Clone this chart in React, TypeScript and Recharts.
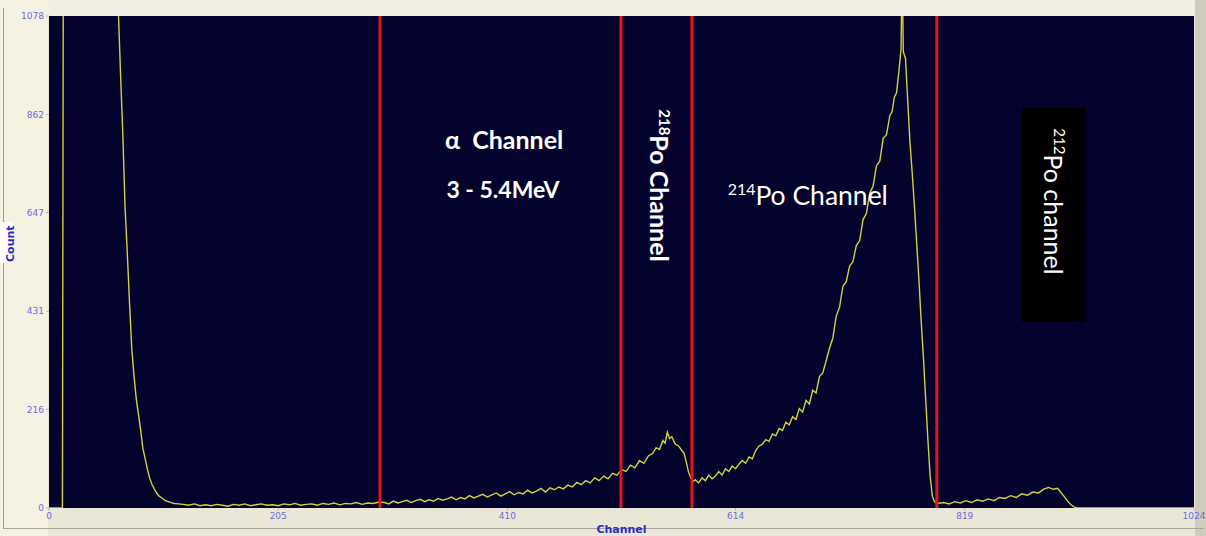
import React from 'react';
import {
  LineChart,
  Line,
  XAxis,
  YAxis,
  CartesianGrid,
  ReferenceLine,
  ReferenceArea,
  ReferenceDot,
} from 'recharts';

// Channel numbers (x)
const channels = [
  0, 6, 12, 13, 60, 62, 64, 66, 68, 70,
  72, 74, 76, 78, 80, 82, 84, 86, 88, 90,
  92, 95, 98, 101, 104, 108, 112, 116,
  120, 125, 130, 135, 140, 145, 150, 155, 160, 165,
  170, 175, 180, 185, 190, 195, 200, 205, 210, 215,
  220, 225, 230, 235, 240, 245, 250, 255, 260, 265,
  270, 275, 280, 285, 290, 295,
  300, 304, 308, 312, 316, 320, 324, 328, 332, 336,
  340, 344, 348, 352, 356, 360, 364, 368, 372, 376,
  380, 384, 388, 392, 396, 400, 404, 408, 412, 416,
  420, 424, 428, 432, 436, 440, 444, 448, 452, 456,
  460, 464, 468, 472, 476, 480, 484, 488, 492, 496,
  500, 504, 508, 512, 516, 520, 524, 528, 532, 536,
  540, 543, 546, 549, 551, 553, 555, 557, 560, 563,
  566, 568, 570, 572, 574, 576,
  578, 581, 584, 587, 590, 593, 596, 599, 602, 605,
  608, 611, 614, 617, 620, 623, 626, 629, 632, 635,
  638, 641, 644, 647, 650, 653, 656, 659, 662, 665,
  668, 671, 674, 677, 680, 683, 686, 689, 692, 695,
  698, 701, 704, 707, 710, 713, 716, 719, 722, 725,
  728, 731, 734, 737, 740, 743, 746, 749, 752, 754,
  756, 758, 760, 762, 763, 764, 766, 768, 770, 772,
  774, 776, 778, 780, 782, 784, 786, 788, 790, 792,
  795,
  800, 805, 810, 815, 820, 825, 830, 835, 840, 845,
  850, 855, 860, 865, 870, 875, 880, 885, 890, 894,
  898, 902, 905, 908, 911, 914, 917, 920, 960, 1024,
];

// Counts (y) for each channel above
const counts = [
  0, 0, 0, 1500, 1500, 1090, 950, 820, 660, 560,
  450, 350, 290, 240, 205, 170, 130, 108, 85, 66,
  52, 38, 27, 22, 16, 13, 10, 9,
  8, 6, 9, 5, 7, 5, 8, 6, 4, 8,
  6, 9, 5, 7, 9, 6, 7, 5, 9, 7,
  10, 6, 8, 9, 6, 10, 8, 11, 7, 10,
  9, 12, 8, 11, 10, 13,
  12, 9, 15, 11, 14, 17, 12, 16, 19, 14,
  18, 15, 21, 17, 20, 24, 18, 23, 20, 27,
  22, 26, 30, 24, 29, 33, 26, 31, 36, 29,
  34, 31, 39, 33, 37, 43, 35, 44, 40, 46,
  42, 50, 46, 56, 51, 60, 55, 66, 60, 70,
  64, 76, 72, 84, 80, 94, 88, 104, 98, 114,
  120, 132, 128, 148, 142, 166, 152, 156, 140, 136,
  126, 120, 100, 78, 66, 58,
  62, 55, 66, 60, 72, 64, 70, 80, 72, 86,
  80, 92, 86, 96, 104, 98, 112, 108, 126, 136,
  140, 150, 146, 162, 158, 174, 170, 188, 182, 200,
  194, 218, 210, 236, 228, 258, 252, 288, 296, 322,
  350, 372, 420, 440, 486, 496, 530, 540, 575, 586,
  632, 645, 690, 705, 750, 760, 810, 818, 860, 868,
  900, 910, 955, 1005, 1200, 1000, 985, 890, 800, 734,
  660, 580, 500, 410, 330, 240, 150, 70, 26, 13,
  10,
  12, 9, 14, 11, 16, 12, 18, 15, 20, 16,
  23, 21, 27, 23, 31, 28, 35, 33, 42, 45,
  41, 43, 34, 25, 15, 7, 2, 0, 0, 0,
];

const xTicks = [0, 205, 410, 614, 819, 1024];
const yTicks = [0, 216, 431, 647, 862, 1078];
const boundaries = [296, 511.5, 575, 794];

const data = channels.map((ch, i) => ({ ch, count: counts[i] }));

const tickStyle = { fill: '#6a6ae0', fontSize: 9, fontFamily: 'DejaVu Sans' };
const annoFont = 'Lato';

const HText = (text: string, size: number, weight: number, anchor: 'middle' | 'start', sup?: string) =>
  (p: any) => (
    <text
      x={p.cx}
      y={p.cy}
      fill="#ffffff"
      fontFamily={annoFont}
      fontSize={size}
      fontWeight={weight}
      textAnchor={anchor}
    >
      {sup ? (
        <>
          <tspan fontSize={size * 0.6} dy={-size * 0.38}>{sup}</tspan>
          <tspan dy={size * 0.38}>{text}</tspan>
        </>
      ) : (
        text
      )}
    </text>
  );

const VText = (text: string, size: number, weight: number, sup: string) => (p: any) => (
  <text
    x={p.cx}
    y={p.cy + size * 0.36}
    transform={`rotate(90 ${p.cx} ${p.cy})`}
    fill="#ffffff"
    fontFamily={annoFont}
    fontSize={size}
    fontWeight={weight}
    textAnchor="middle"
  >
    <tspan fontSize={size * 0.6} dy={-size * 0.38}>{sup}</tspan>
    <tspan dy={size * 0.38}>{text}</tspan>
  </text>
);

export default function App() {
  return (
    <div
      style={{
        position: 'absolute',
        left: 0,
        top: 0,
        width: 1206,
        height: 536,
        background: '#ebe7d6',
        overflow: 'hidden',
      }}
    >
      <div style={{ position: 'absolute', left: 0, top: 0, width: 48, height: 536, background: '#f6f2e1' }} />
      <div style={{ position: 'absolute', left: 48, top: 0, width: 1158, height: 16, background: '#f1eee3' }} />
      <div style={{ position: 'absolute', left: 1195, top: 0, width: 11, height: 536, background: '#cfccbd' }} />
      <div
        style={{
          position: 'absolute',
          left: 3,
          top: 8,
          width: 1200,
          height: 520,
          borderLeft: '1px solid #9c9c94',
          borderBottom: '1px solid #a8a69c',
        }}
      />
      <div style={{ position: 'absolute', left: 0, top: 222, width: 12, height: 41, background: '#ffffff' }} />
      <div style={{ position: 'absolute', left: 0, top: 0 }}>
        <LineChart
          width={1206}
          height={536}
          data={data}
          margin={{ top: 16, right: 12, bottom: 0, left: 0 }}
        >
          <CartesianGrid fill="#03032e" horizontal={false} vertical={false} />
          <XAxis
            type="number"
            dataKey="ch"
            domain={[0, 1024]}
            ticks={xTicks}
            interval={0}
            allowDataOverflow
            height={28}
            axisLine={false}
            tickLine={{ stroke: '#bdbaa8' }}
            tickSize={3}
            tick={tickStyle}
            label={{
              value: 'Channel',
              position: 'insideBottom',
              offset: 3,
              fill: '#2c2cc4',
              fontSize: 11,
              fontWeight: 700,
              fontFamily: 'DejaVu Sans',
            }}
          />
          <YAxis
            type="number"
            domain={[0, 1078]}
            ticks={yTicks}
            interval={0}
            allowDataOverflow
            width={49}
            axisLine={false}
            tickLine={{ stroke: '#bdbaa8' }}
            tickSize={3}
            tick={tickStyle}
            label={{
              value: 'Count',
              angle: -90,
              position: 'insideLeft',
              offset: 10,
              fill: '#2c2cc4',
              fontSize: 11,
              fontWeight: 700,
              fontFamily: 'DejaVu Sans',
            }}
          />
          <ReferenceArea x1={870.2} x2={926.5} y1={407.5} y2={876.4} fill="#000000" fillOpacity={1} stroke="none" />
          <ReferenceDot x={407} y={787} r={0} shape={HText('α\u00A0\u00A0Channel', 25, 700, 'middle')} />
          <ReferenceDot x={406} y={679} r={0} shape={HText('3 - 5.4MeV', 23, 700, 'middle')} />
          <ReferenceDot x={545.5} y={706.6} r={0} shape={VText('Po Channel', 25, 700, '218')} />
          <ReferenceDot x={607} y={664} r={0} shape={HText('Po Channel', 26.5, 400, 'start', '214')} />
          <ReferenceDot x={898} y={671.6} r={0} shape={VText('Po channel', 25, 400, '212')} />
          <Line
            type="linear"
            dataKey="count"
            stroke="#d2d23c"
            strokeWidth={1.4}
            dot={false}
            isAnimationActive={false}
          />
          {boundaries.map((b) => (
            <ReferenceLine key={b} x={b} stroke="#e5141b" strokeWidth={3} />
          ))}
        </LineChart>
      </div>
    </div>
  );
}
